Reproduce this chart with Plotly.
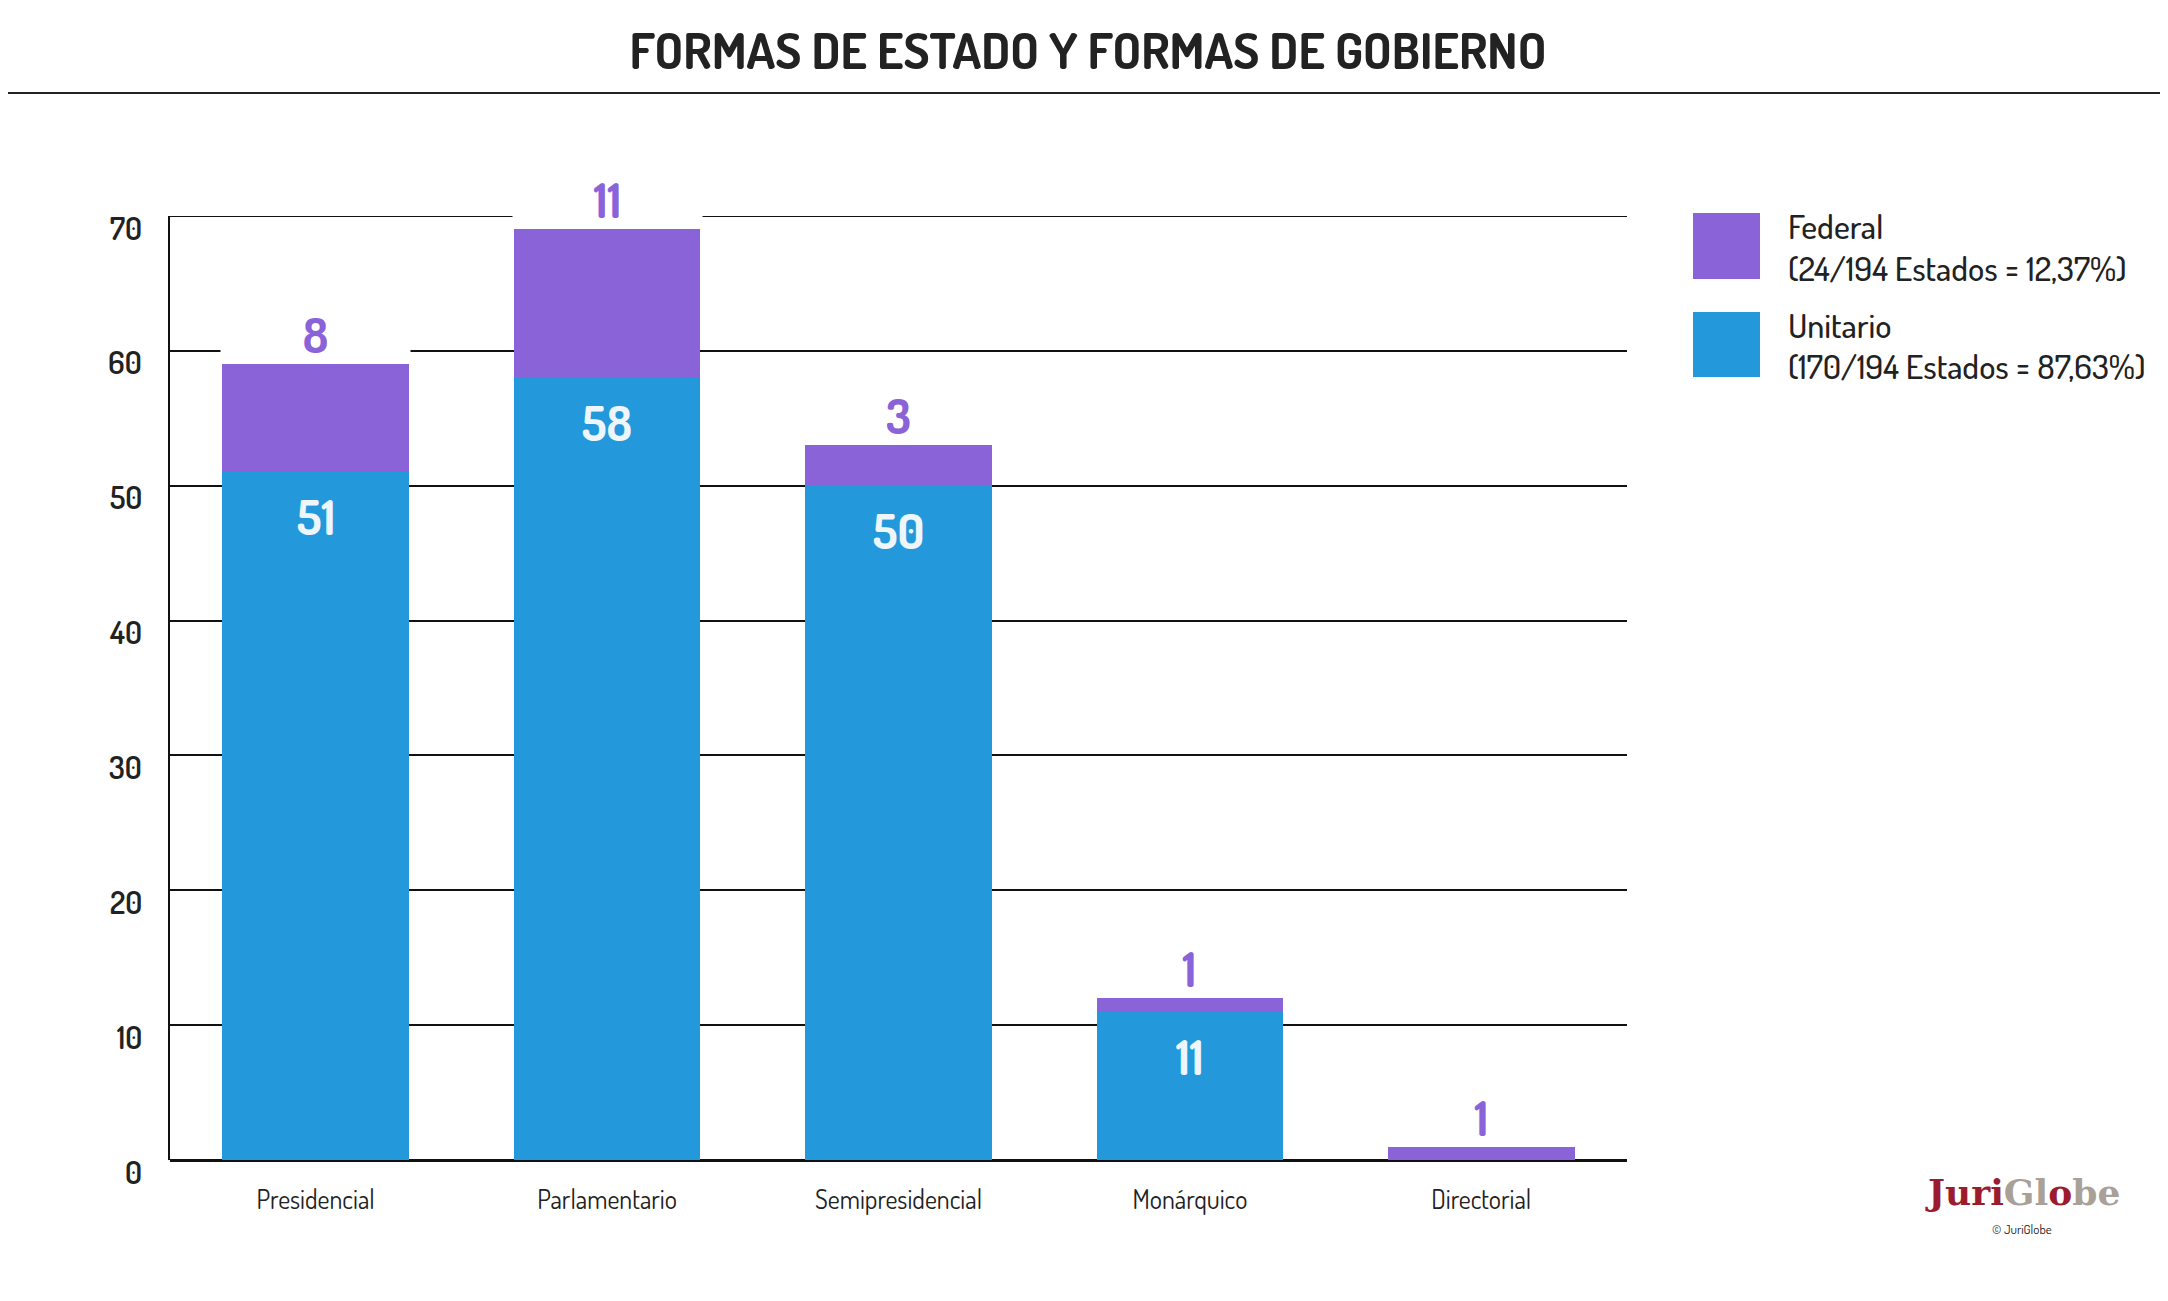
import plotly.graph_objects as go

# Data
categorias = ["Presidencial", "Parlamentario", "Semipresidencial", "Monárquico", "Directorial"]
unitario = [51, 58, 50, 11, 0]
federal = [8, 11, 3, 1, 1]
y_ticks = [0, 10, 20, 30, 40, 50, 60, 70]

leyenda_federal = ["Federal", "(24/194 Estados = 12,37%)"]
leyenda_unitario = ["Unitario", "(170/194 Estados = 87,63%)"]

MORADO = "#8A63D9"
AZUL = "#2399DB"
TEXTO = "#222222"
FUENTE = "Dosis, 'DejaVu Sans Condensed', 'Liberation Sans Narrow', 'Open Sans', sans-serif"

# page is offset by the body margin (8px), so work in page pixels and convert
OFF = 8
W, H = 2168 - OFF, 1301 - OFF
L, R, T, B = 170 - OFF, 541, 216 - OFF, 141
PW, PH = W - L - R, H - T - B


def px(x):
    return (x - OFF - L) / PW


def py(y):
    return (H - B - (y - OFF)) / PH


fig = go.Figure()
fig.add_trace(go.Bar(x=categorias, y=unitario, name="Unitario",
                     marker=dict(color=AZUL, line=dict(width=0))))
fig.add_trace(go.Bar(x=categorias, y=federal, name="Federal",
                     marker=dict(color=MORADO, line=dict(width=0))))

bar_px = 187
anns = []
# value labels
for c, u, f in zip(categorias, unitario, federal):
    anns.append(dict(x=c, y=u + f, xref="x", yref="y", text=f"<b>{f}</b>", showarrow=False,
                     xanchor="center", yshift=30, bgcolor="white", width=bar_px, height=56,
                     font=dict(family=FUENTE, size=48, color=MORADO)))
    if u > 0:
        anns.append(dict(x=c, y=u, xref="x", yref="y", text=f"<b>{u}</b>", showarrow=False,
                         xanchor="center", yshift=-44,
                         font=dict(family=FUENTE, size=48, color="#EEF6FC")))

# y tick labels sit a bit below their gridlines
for t in y_ticks:
    anns.append(dict(x=0, y=t, xref="paper", yref="y", text=str(t), showarrow=False,
                     xanchor="right", xshift=-26, yshift=-11,
                     font=dict(family=FUENTE, size=31, color=TEXTO, weight=600)))

# legend
shapes = [dict(type="line", xref="paper", yref="y", x0=0, x1=1, y0=70, y1=70,
               layer="below", line=dict(color="#111111", width=2))]
for (top, bottom), color, lines in [((213, 279), MORADO, leyenda_federal),
                                     ((312, 377), AZUL, leyenda_unitario)]:
    shapes.append(dict(type="rect", xref="paper", yref="paper",
                       x0=px(1693), x1=px(1760), y0=py(bottom), y1=py(top),
                       fillcolor=color, line=dict(width=0)))
    mid = (top + bottom) / 2
    anns.append(dict(x=px(1786), y=py(mid - 20), xref="paper", yref="paper", text=lines[0],
                     showarrow=False, xanchor="left", yanchor="middle",
                     font=dict(family=FUENTE, size=34, color=TEXTO, weight=500)))
    anns.append(dict(x=px(1786), y=py(mid + 21), xref="paper", yref="paper", text=lines[1],
                     showarrow=False, xanchor="left", yanchor="middle",
                     font=dict(family=FUENTE, size=34, color=TEXTO, weight=500)))

# title rule
shapes.append(dict(type="line", xref="paper", yref="paper", x0=px(0), x1=px(2168),
                   y0=py(93), y1=py(93), line=dict(color="#222222", width=2)))

# logo
anns.append(dict(x=px(2022), y=py(1192), xref="paper", yref="paper",
                 xanchor="center", yanchor="middle",
                 text="<b><span style='color:#9B1C2E'>Juri</span>"
                      "<span style='color:#A9A097'>Gl</span>"
                      "<span style='color:#9B1C2E'>o</span>"
                      "<span style='color:#A9A097'>be</span></b>",
                 showarrow=False, font=dict(family="'DejaVu Serif', serif", size=36)))
anns.append(dict(x=px(2022), y=py(1229), xref="paper", yref="paper",
                 xanchor="center", yanchor="middle",
                 text="© JuriGlobe", showarrow=False,
                 font=dict(family=FUENTE, size=13, color=TEXTO)))

fig.update_layout(
    width=W, height=H,
    margin=dict(l=L, r=R, t=T, b=B),
    paper_bgcolor="white", plot_bgcolor="white",
    barmode="stack", bargap=0.36,
    showlegend=False,
    title=dict(text="<b>FORMAS DE ESTADO Y FORMAS DE GOBIERNO</b>", x=0.5, xanchor="center",
               y=1 - (51 - OFF) / H, yanchor="middle",
               font=dict(family=FUENTE, size=50, color=TEXTO)),
    annotations=anns,
    shapes=shapes,
)
fig.update_yaxes(range=[0, 70], tickvals=y_ticks, showticklabels=False,
                 showgrid=True, gridcolor="#111111", gridwidth=2,
                 showline=True, linecolor="#111111", linewidth=2,
                 zeroline=True, zerolinecolor="#111111", zerolinewidth=3)
fig.update_xaxes(showline=False, ticks="", ticklabelstandoff=22,
                 tickfont=dict(family=FUENTE, size=26, color=TEXTO))

fig.write_html("out.html")
